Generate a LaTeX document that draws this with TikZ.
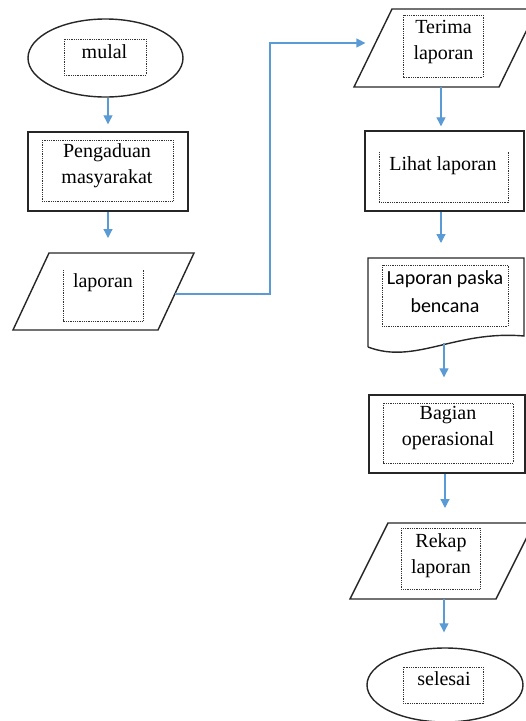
\documentclass[tikz,border=0pt]{standalone}
\usepackage{fontspec}
\setmainfont{Liberation Serif}
\newfontfamily\docfont{Carlito}
\usetikzlibrary{arrows.meta,shapes.geometric}
\definecolor{flowblue}{HTML}{5B9BD5}
\tikzset{
  outline/.style={draw=black!85, line width=1.4pt},
  dotbox/.style={draw=black!80, line width=0.9pt, dash pattern=on 0.9pt off 0.9pt},
  flow/.style={draw=flowblue, line width=1.2pt, -{Triangle[width=9pt,length=9pt]}},
  label/.style={font=\fontsize{20}{26}\selectfont, inner sep=0pt, anchor=base},
}
\newcommand\twoline[2]{\begin{tabular}[t]{@{}c@{}}#1\\#2\end{tabular}}
\begin{document}
\begin{tikzpicture}[x=1pt,y=-1pt]
\useasboundingbox (0,0) rectangle (526,721);

% start terminal
\node[outline, ellipse, minimum width=155pt, minimum height=78pt] (mulal) at (105.5,58) {};
\draw[dotbox] (64,39) rectangle (146,75);
\node[label] (mulal-t) at (104.5,58.3) {mulal};

% complaint process
\node[outline, rectangle, minimum width=160pt, minimum height=79pt] (aduan) at (108,171.5) {};
\draw[dotbox] (42,140) rectangle (173,201);
\node[label] (aduan-t) at (107,157) {\twoline{Pengaduan}{masyarakat}};

% report input
\draw[outline] (49,253) -- (194,253) -- (158,330) -- (13,330) -- cycle;
\coordinate (lap-n) at (108,253);
\coordinate (lap-e) at (175,294);
\draw[dotbox] (63,270) -- (63,321) -- (143,321) -- (143,270);
\node[label] (lap-t) at (103,287) {laporan};

% receive report
\draw[outline] (392,9) -- (537,9) -- (499,87) -- (354,87) -- cycle;
\coordinate (ter-w) at (375.4,43);
\coordinate (ter-s) at (441,87);
\draw[dotbox] (403,15) rectangle (483,77);
\node[label] (ter-t) at (443.5,33) {\twoline{Terima}{laporan}};

% view report
\node[outline, rectangle, minimum width=159pt, minimum height=80pt] (lihat) at (444.5,171) {};
\draw[dotbox] (379,152) -- (379,202) -- (508,202) -- (508,152);
\node[label] (lihat-t) at (443,170) {Lihat laporan};

% post-disaster report document
\draw[outline] (368,347) -- (368,258) -- (524,258) -- (524,336)
  .. controls (455,330) and (415,365) .. (368,347);
\coordinate (doc-n) at (441,258);
\coordinate (doc-s) at (444,343);
\draw[dotbox] (382,265) rectangle (508,326);
\node[label, font=\docfont\fontsize{20}{28}\selectfont] (doc-t) at (445,284) {\twoline{Laporan paska}{bencana}};

% operations
\node[outline, rectangle, minimum width=156pt, minimum height=78pt] (bagian) at (447,434) {};
\draw[dotbox] (383,403) rectangle (513,463);
\node[label] (bagian-t) at (448,419) {\twoline{Bagian}{operasional}};

% recap output
\draw[outline] (388,523) -- (534,523) -- (496,599) -- (350,599) -- cycle;
\coordinate (rek-n) at (445,523);
\coordinate (rek-s) at (444,599);
\draw[dotbox] (401,528) rectangle (480,589);
\node[label] (rek-t) at (441,547) {\twoline{Rekap}{laporan}};

% end terminal
\node[outline, ellipse, minimum width=156pt, minimum height=74pt] (selesai) at (445,685) {};
\draw[dotbox] (403,667) rectangle (483,703);
\node[label] (selesai-t) at (444,685) {selesai};

% connectors
\draw[flow, shorten >=7pt] (mulal.south -| aduan.north) -- (aduan.north);
\draw[flow, shorten >=15pt] (aduan.south) -- (lap-n);
\draw[flow, shorten >=10pt] (lap-e) -- ++(95,0) |- (ter-w);
\draw[flow, shorten >=4pt] (ter-s) -- (ter-s |- lihat.north);
\draw[flow, shorten >=15pt] (lihat.south -| doc-n) -- (doc-n);
\draw[flow, shorten >=17pt] (doc-s) -- (doc-s |- bagian.north);
\draw[flow, shorten >=15pt] (bagian.south -| rek-n) -- (rek-n);
\draw[flow, shorten >=15pt] (rek-s) -- (rek-s |- selesai.north);
\end{tikzpicture}
\end{document}
